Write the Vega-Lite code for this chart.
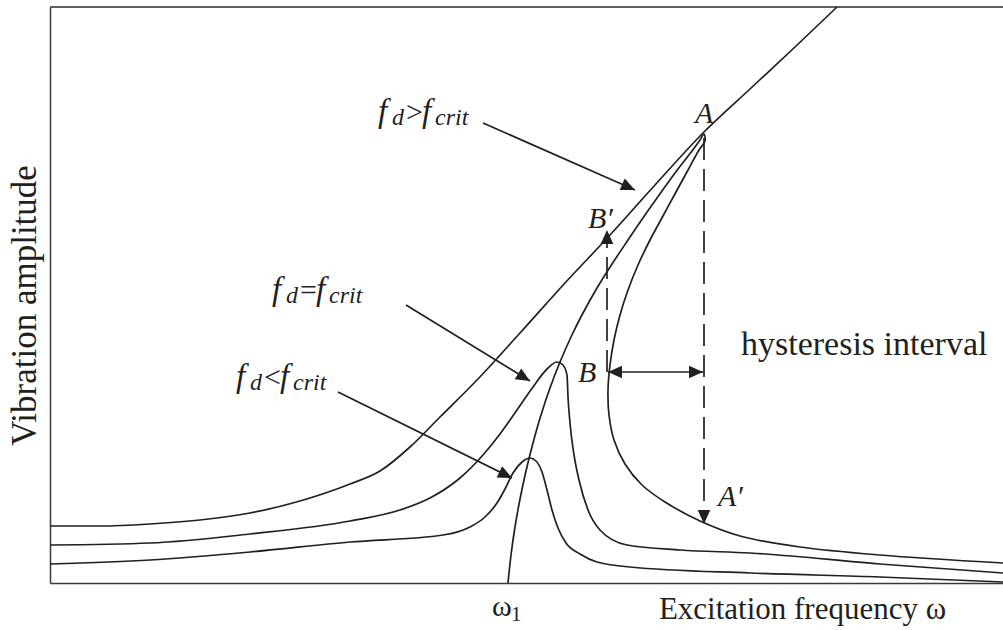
{
  "$schema": "https://vega.github.io/schema/vega-lite/v6.json",
  "width": 953,
  "height": 576,
  "autosize": {"type": "none"},
  "padding": {"left": 50, "top": 7, "right": 0, "bottom": 47},
  "background": "white",
  "config": {
    "view": {"stroke": null},
    "axis": {
      "grid": false,
      "ticks": false,
      "labels": false,
      "domainColor": "#3a3a3a",
      "domainWidth": 1.5,
      "titleFont": "Liberation Serif",
      "titleFontWeight": "normal",
      "titleColor": "#231f20"
    }
  },
  "datasets": {
    "curves": [
      {"c": "upper", "i": 0, "w": 0.0, "a": 0.57},
      {"c": "upper", "i": 1, "w": 0.5, "a": 0.57},
      {"c": "upper", "i": 2, "w": 1.0, "a": 0.59},
      {"c": "upper", "i": 3, "w": 1.5, "a": 0.63},
      {"c": "upper", "i": 4, "w": 2.0, "a": 0.70},
      {"c": "upper", "i": 5, "w": 2.5, "a": 0.82},
      {"c": "upper", "i": 6, "w": 3.0, "a": 0.99},
      {"c": "upper", "i": 7, "w": 3.3, "a": 1.12},
      {"c": "upper", "i": 8, "w": 3.6, "a": 1.36},
      {"c": "upper", "i": 9, "w": 3.9, "a": 1.66},
      {"c": "upper", "i": 10, "w": 4.27, "a": 2.03},
      {"c": "upper", "i": 11, "w": 4.70, "a": 2.50},
      {"c": "upper", "i": 12, "w": 5.15, "a": 3.00},
      {"c": "upper", "i": 13, "w": 5.60, "a": 3.48},
      {"c": "upper", "i": 14, "w": 6.05, "a": 3.98},
      {"c": "upper", "i": 15, "w": 6.53, "a": 4.50},
      {"c": "upper", "i": 16, "w": 7.00, "a": 4.94},
      {"c": "upper", "i": 17, "w": 7.45, "a": 5.36},
      {"c": "upper", "i": 18, "w": 7.87, "a": 5.76},

      {"c": "critical", "i": 0, "w": 0.0, "a": 0.38},
      {"c": "critical", "i": 1, "w": 1.0, "a": 0.40},
      {"c": "critical", "i": 2, "w": 2.0, "a": 0.49},
      {"c": "critical", "i": 3, "w": 3.0, "a": 0.62},
      {"c": "critical", "i": 4, "w": 3.5, "a": 0.73},
      {"c": "critical", "i": 5, "w": 3.8, "a": 0.85},
      {"c": "critical", "i": 6, "w": 4.1, "a": 1.05},
      {"c": "critical", "i": 7, "w": 4.33, "a": 1.28},
      {"c": "critical", "i": 8, "w": 4.50, "a": 1.49},
      {"c": "critical", "i": 9, "w": 4.67, "a": 1.73},
      {"c": "critical", "i": 10, "w": 4.83, "a": 1.96},
      {"c": "critical", "i": 11, "w": 4.98, "a": 2.15},
      {"c": "critical", "i": 12, "w": 5.07, "a": 2.21},
      {"c": "critical", "i": 13, "w": 5.13, "a": 2.18},
      {"c": "critical", "i": 14, "w": 5.17, "a": 2.08},
      {"c": "critical", "i": 15, "w": 5.18, "a": 1.86},
      {"c": "critical", "i": 16, "w": 5.20, "a": 1.60},
      {"c": "critical", "i": 17, "w": 5.24, "a": 1.28},
      {"c": "critical", "i": 18, "w": 5.29, "a": 1.03},
      {"c": "critical", "i": 19, "w": 5.38, "a": 0.73},
      {"c": "critical", "i": 20, "w": 5.50, "a": 0.53},
      {"c": "critical", "i": 21, "w": 5.77, "a": 0.38},
      {"c": "critical", "i": 22, "w": 6.30, "a": 0.33},
      {"c": "critical", "i": 23, "w": 7.00, "a": 0.30},
      {"c": "critical", "i": 24, "w": 8.30, "a": 0.19},
      {"c": "critical", "i": 25, "w": 9.53, "a": 0.10},

      {"c": "weak", "i": 0, "w": 0.0, "a": 0.19},
      {"c": "weak", "i": 1, "w": 1.0, "a": 0.23},
      {"c": "weak", "i": 2, "w": 2.0, "a": 0.31},
      {"c": "weak", "i": 3, "w": 3.0, "a": 0.41},
      {"c": "weak", "i": 4, "w": 3.93, "a": 0.48},
      {"c": "weak", "i": 5, "w": 4.20, "a": 0.56},
      {"c": "weak", "i": 6, "w": 4.35, "a": 0.66},
      {"c": "weak", "i": 7, "w": 4.47, "a": 0.80},
      {"c": "weak", "i": 8, "w": 4.55, "a": 0.94},
      {"c": "weak", "i": 9, "w": 4.63, "a": 1.10},
      {"c": "weak", "i": 10, "w": 4.72, "a": 1.21},
      {"c": "weak", "i": 11, "w": 4.80, "a": 1.25},
      {"c": "weak", "i": 12, "w": 4.86, "a": 1.22},
      {"c": "weak", "i": 13, "w": 4.92, "a": 1.11},
      {"c": "weak", "i": 14, "w": 4.97, "a": 0.93},
      {"c": "weak", "i": 15, "w": 5.02, "a": 0.73},
      {"c": "weak", "i": 16, "w": 5.08, "a": 0.55},
      {"c": "weak", "i": 17, "w": 5.16, "a": 0.40},
      {"c": "weak", "i": 18, "w": 5.30, "a": 0.29},
      {"c": "weak", "i": 19, "w": 5.47, "a": 0.21},
      {"c": "weak", "i": 20, "w": 5.80, "a": 0.16},
      {"c": "weak", "i": 21, "w": 7.00, "a": 0.10},
      {"c": "weak", "i": 22, "w": 8.30, "a": 0.06},
      {"c": "weak", "i": 23, "w": 9.53, "a": 0.01}
    ],
    "fold": [
      {"i": 0, "w": 4.58, "a": 0.00},
      {"i": 1, "w": 4.61, "a": 0.28},
      {"i": 2, "w": 4.65, "a": 0.56},
      {"i": 3, "w": 4.70, "a": 0.84},
      {"i": 4, "w": 4.76, "a": 1.12},
      {"i": 5, "w": 4.83, "a": 1.40},
      {"i": 6, "w": 4.91, "a": 1.68},
      {"i": 7, "w": 5.00, "a": 1.95},
      {"i": 8, "w": 5.10, "a": 2.21},
      {"i": 9, "w": 5.21, "a": 2.46},
      {"i": 10, "w": 5.33, "a": 2.70},
      {"i": 11, "w": 5.47, "a": 2.95},
      {"i": 12, "w": 5.62, "a": 3.19},
      {"i": 13, "w": 5.78, "a": 3.43},
      {"i": 14, "w": 5.95, "a": 3.68},
      {"i": 15, "w": 6.12, "a": 3.92},
      {"i": 16, "w": 6.28, "a": 4.14},
      {"i": 17, "w": 6.42, "a": 4.32},
      {"i": 18, "w": 6.50, "a": 4.43},
      {"i": 19, "w": 6.54, "a": 4.49},
      {"i": 20, "w": 6.55, "a": 4.42},
      {"i": 21, "w": 6.49, "a": 4.33},
      {"i": 22, "w": 6.38, "a": 4.13},
      {"i": 23, "w": 6.26, "a": 3.91},
      {"i": 24, "w": 6.13, "a": 3.67},
      {"i": 25, "w": 6.00, "a": 3.43},
      {"i": 26, "w": 5.88, "a": 3.18},
      {"i": 27, "w": 5.78, "a": 2.93},
      {"i": 28, "w": 5.70, "a": 2.68},
      {"i": 29, "w": 5.64, "a": 2.43},
      {"i": 30, "w": 5.60, "a": 2.18},
      {"i": 31, "w": 5.58, "a": 1.93},
      {"i": 32, "w": 5.59, "a": 1.68},
      {"i": 33, "w": 5.64, "a": 1.43},
      {"i": 34, "w": 5.75, "a": 1.19},
      {"i": 35, "w": 5.92, "a": 0.98},
      {"i": 36, "w": 6.15, "a": 0.81},
      {"i": 37, "w": 6.50, "a": 0.62},
      {"i": 38, "w": 6.90, "a": 0.47},
      {"i": 39, "w": 7.50, "a": 0.36},
      {"i": 40, "w": 8.30, "a": 0.28},
      {"i": 41, "w": 9.53, "a": 0.20}
    ],
    "pointers": [
      {"w": 4.33, "a": 4.60, "w2": 5.85, "a2": 3.93},
      {"w": 3.56, "a": 2.78, "w2": 4.80, "a2": 2.02},
      {"w": 2.88, "a": 1.91, "w2": 4.62, "a2": 1.05},
      {"w": 5.58, "a": 2.11, "w2": 6.53, "a2": 2.11}
    ],
    "jumps": [
      {"w": 6.54, "a": 4.45, "w2": 6.54, "a2": 0.68},
      {"w": 5.57, "a": 2.11, "w2": 5.57, "a2": 3.43}
    ],
    "heads": [
      {"w": 5.85, "a": 3.93, "dir": 114},
      {"w": 4.80, "a": 2.02, "dir": 121},
      {"w": 4.62, "a": 1.05, "dir": 116},
      {"w": 6.54, "a": 0.59, "dir": 180},
      {"w": 5.57, "a": 3.53, "dir": 0},
      {"w": 5.58, "a": 2.11, "dir": 270},
      {"w": 6.53, "a": 2.11, "dir": 90}
    ],
    "frame": [
      {"w": 0, "a": 5.76, "w2": 9.53}
    ],
    "labels": [
      {"role": "f", "w": 3.28, "a": 4.61, "t": "f"},
      {"role": "sub", "w": 3.42, "a": 4.58, "t": "d"},
      {"role": "op", "w": 3.56, "a": 4.61, "t": ">"},
      {"role": "f", "w": 3.72, "a": 4.61, "t": "f"},
      {"role": "sub", "w": 3.85, "a": 4.58, "t": "crit"},

      {"role": "f", "w": 2.22, "a": 2.83, "t": "f"},
      {"role": "sub", "w": 2.36, "a": 2.80, "t": "d"},
      {"role": "op", "w": 2.50, "a": 2.83, "t": "="},
      {"role": "f", "w": 2.66, "a": 2.83, "t": "f"},
      {"role": "sub", "w": 2.79, "a": 2.80, "t": "crit"},

      {"role": "f", "w": 1.86, "a": 1.96, "t": "f"},
      {"role": "sub", "w": 2.00, "a": 1.93, "t": "d"},
      {"role": "op", "w": 2.14, "a": 1.96, "t": "<"},
      {"role": "f", "w": 2.30, "a": 1.96, "t": "f"},
      {"role": "sub", "w": 2.43, "a": 1.93, "t": "crit"},

      {"role": "it", "w": 6.45, "a": 4.60, "t": "A"},
      {"role": "it", "w": 5.38, "a": 3.55, "t": "B′"},
      {"role": "it", "w": 5.28, "a": 2.01, "t": "B"},
      {"role": "it", "w": 6.68, "a": 0.77, "t": "A′"},

      {"role": "rm", "w": 6.91, "a": 2.28, "t": "hysteresis interval"},
      {"role": "op", "w": 4.42, "a": -0.33, "t": "ω"},
      {"role": "rmsub", "w": 4.61, "a": -0.38, "t": "1"}
    ]
  },
  "encoding": {
    "x": {
      "field": "w",
      "type": "quantitative",
      "scale": {"domain": [0, 9.53], "nice": false, "zero": false},
      "axis": {
        "title": "Excitation frequency ω",
        "titleFontSize": 31,
        "titleX": 752,
        "titleY": 35,
        "titleAlign": "center",
        "titleBaseline": "alphabetic"
      }
    },
    "y": {
      "field": "a",
      "type": "quantitative",
      "scale": {"domain": [0, 5.76], "nice": false, "zero": false},
      "axis": {
        "title": "Vibration amplitude",
        "titleFontSize": 35,
        "titleX": -15,
        "titleY": 298,
        "titleAngle": 270,
        "titleAlign": "center",
        "titleBaseline": "alphabetic"
      }
    }
  },
  "layer": [
    {
      "data": {"name": "frame"},
      "mark": {"type": "rule", "stroke": "#2a2a2a", "strokeWidth": 1.5},
      "encoding": {"x2": {"field": "w2"}}
    },
    {
      "data": {"name": "curves"},
      "mark": {"type": "line", "interpolate": "monotone", "stroke": "#231f20", "strokeWidth": 1.7},
      "encoding": {
        "detail": {"field": "c"},
        "order": {"field": "i", "type": "quantitative"}
      }
    },
    {
      "data": {"name": "fold"},
      "mark": {"type": "line", "interpolate": "catmull-rom", "stroke": "#231f20", "strokeWidth": 1.7},
      "encoding": {
        "order": {"field": "i", "type": "quantitative"}
      }
    },
    {
      "data": {"name": "pointers"},
      "mark": {"type": "rule", "stroke": "#231f20", "strokeWidth": 1.7},
      "encoding": {"x2": {"field": "w2"}, "y2": {"field": "a2"}}
    },
    {
      "data": {"name": "jumps"},
      "mark": {"type": "rule", "stroke": "#231f20", "strokeWidth": 1.7, "strokeDash": [22, 9]},
      "encoding": {"x2": {"field": "w2"}, "y2": {"field": "a2"}}
    },
    {
      "data": {"name": "heads"},
      "mark": {
        "type": "point",
        "shape": "M0,0L-0.45,1L0.45,1Z",
        "size": 784,
        "filled": true,
        "fill": "#231f20",
        "opacity": 1,
        "strokeWidth": 0
      },
      "encoding": {"angle": {"field": "dir", "type": "quantitative", "scale": null}}
    },
    {
      "data": {"name": "labels"},
      "transform": [{"filter": "datum.role === 'f'"}],
      "mark": {"type": "text", "align": "left", "baseline": "alphabetic", "font": "Liberation Serif", "fontStyle": "italic", "fontSize": 33, "fill": "#231f20"},
      "encoding": {"text": {"field": "t"}}
    },
    {
      "data": {"name": "labels"},
      "transform": [{"filter": "datum.role === 'it'"}],
      "mark": {"type": "text", "align": "left", "baseline": "alphabetic", "font": "Liberation Serif", "fontStyle": "italic", "fontSize": 30, "fill": "#231f20"},
      "encoding": {"text": {"field": "t"}}
    },
    {
      "data": {"name": "labels"},
      "transform": [{"filter": "datum.role === 'sub'"}],
      "mark": {"type": "text", "align": "left", "baseline": "alphabetic", "font": "Liberation Serif", "fontStyle": "italic", "fontSize": 24, "fill": "#231f20"},
      "encoding": {"text": {"field": "t"}}
    },
    {
      "data": {"name": "labels"},
      "transform": [{"filter": "datum.role === 'op'"}],
      "mark": {"type": "text", "align": "left", "baseline": "alphabetic", "font": "Liberation Serif", "fontSize": 30, "fill": "#231f20"},
      "encoding": {"text": {"field": "t"}}
    },
    {
      "data": {"name": "labels"},
      "transform": [{"filter": "datum.role === 'rm'"}],
      "mark": {"type": "text", "align": "left", "baseline": "alphabetic", "font": "Liberation Serif", "fontSize": 34, "fill": "#231f20"},
      "encoding": {"text": {"field": "t"}}
    },
    {
      "data": {"name": "labels"},
      "transform": [{"filter": "datum.role === 'rmsub'"}],
      "mark": {"type": "text", "align": "left", "baseline": "alphabetic", "font": "Liberation Serif", "fontSize": 21, "fill": "#231f20"},
      "encoding": {"text": {"field": "t"}}
    }
  ]
}
